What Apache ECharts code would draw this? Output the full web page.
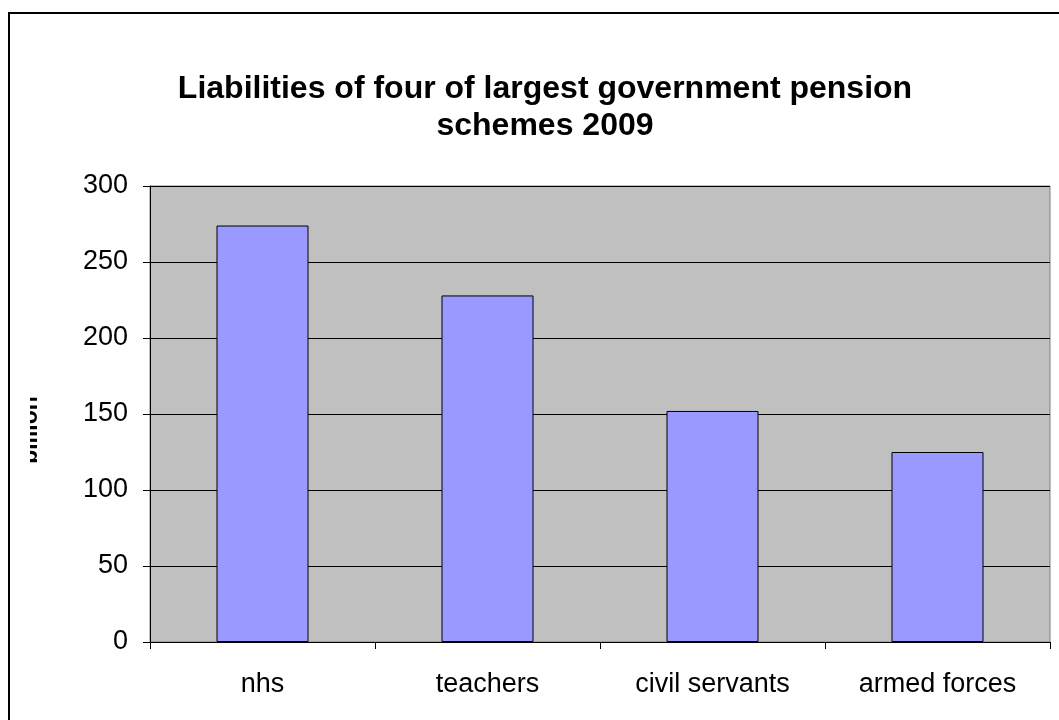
<!DOCTYPE html>
<html>
<head>
<meta charset="utf-8">
<script src="https://cdn.jsdelivr.net/npm/echarts@6/dist/echarts.min.js"></script>
<style>
  html, body { margin: 0; padding: 0; background: #fff; }
  #chart { width: 1059px; height: 720px; }
</style>
</head>
<body>
<div id="chart"></div>
<script>
// Chart data
const categories = ['nhs', 'teachers', 'civil servants', 'armed forces'];
const liabilities = [274, 228, 152, 125];
const titleLines = ['Liabilities of four of largest government pension', 'schemes 2009'];
const yName = 'billion';

const FONT = '"Liberation Sans", Arial, sans-serif';

const chart = echarts.init(document.getElementById('chart'));

const option = {
    backgroundColor: '#fff',
    animation: false,
    title: {
        text: titleLines.join('\n'),
        left: 540,
        top: 66,
        textAlign: 'center',
        textStyle: {
            fontFamily: FONT,
            fontSize: 32,
            fontWeight: 'bold',
            color: '#000',
            lineHeight: 37
        }
    },
    grid: {
        left: 150, top: 186, right: 9, bottom: 78,
        show: true,
        backgroundColor: '#c0c0c0',
        borderColor: '#808080',
        borderWidth: 1
    },
    xAxis: {
        type: 'category',
        data: categories,
        axisLine: { lineStyle: { color: '#000', width: 1 } },
        axisTick: { show: true, length: 7, lineStyle: { color: '#000' } },
        axisLabel: { color: '#000', fontFamily: FONT, fontSize: 27, margin: 29 },
        splitLine: { show: false }
    },
    yAxis: {
        type: 'value',
        min: 0, max: 300, interval: 50,
        axisLine: { show: true, lineStyle: { color: '#000', width: 1 } },
        axisTick: { show: true, length: 7, lineStyle: { color: '#000' } },
        axisLabel: { color: '#000', fontFamily: FONT, fontSize: 27, margin: 22 },
        splitLine: { lineStyle: { color: '#000', width: 1 } }
    },
    series: [{
        type: 'bar',
        data: liabilities,
        barWidth: 92,
        itemStyle: { color: '#9999ff', borderColor: '#000', borderWidth: 1 }
    }],
    graphic: [
        {
            type: 'rect',
            shape: { x: 9, y: 13, width: 1200, height: 900 },
            style: { fill: 'none', stroke: '#000', lineWidth: 2 },
            z: 1
        },
        {
            type: 'text',
            x: 42, y: 430,
            rotation: Math.PI / 2,
            style: {
                text: yName,
                fontFamily: FONT, fontSize: 23, fontWeight: 'bold',
                fill: '#000',
                align: 'center', verticalAlign: 'bottom'
            },
            z: 2
        },
        {
            // the reference clips the axis title on its left side
            type: 'rect',
            shape: { x: 11, y: 380, width: 19, height: 100 },
            style: { fill: '#fff' },
            z: 3
        }
    ]
};

chart.setOption(option);
</script>
</body>
</html>
